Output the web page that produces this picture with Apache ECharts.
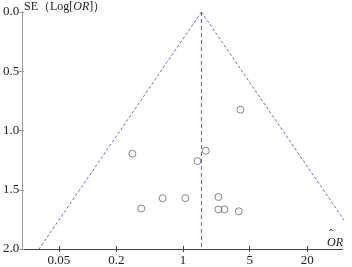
<!DOCTYPE html>
<html>
<head>
<meta charset="utf-8">
<script src="https://cdn.jsdelivr.net/npm/echarts@6/dist/echarts.min.js"></script>
<style>html,body{margin:0;padding:0;background:#fff}#c{width:352px;height:267px}</style>
</head>
<body>
<div id="c"></div>
<script>
// Study odds ratios and standard errors of log(OR)
const studyOR = [4.0, 0.294, 1.73, 1.416, 0.365, 0.611, 1.056, 2.35, 2.35, 2.72, 3.84];
const studySE = [0.824, 1.196, 1.171, 1.258, 1.658, 1.571, 1.571, 1.561, 1.666, 1.666, 1.682];
// pooled estimate (vertex of funnel)
const pooledOR = 1.56;
const funnelSE = [0, 2];
// tick labels
const xTickValues = [0.05, 0.2, 1, 5, 20];
const xTickLabels = ['0.05', '0.2', '1', '5', '20'];
const yTickValues = [0, 0.5, 1, 1.5, 2];

const LN10 = Math.log(10);
const pooledLog = Math.log10(pooledOR);
const points = studyOR.map((v, i) => [Math.log10(v), studySE[i]]);
const leftLine = funnelSE.map(s => [pooledLog - 1.96 * s / LN10, s]);
const rightLine = funnelSE.map(s => [pooledLog + 1.96 * s / LN10, s]);
const midLine = funnelSE.map(s => [pooledLog, s]);
const xTickLogs = xTickValues.map(v => Math.log10(v));

const serif = '"Liberation Serif", "DejaVu Serif", serif';
const chart = echarts.init(document.getElementById('c'), null, {renderer: 'canvas'});
const xMin = -1.686, xMax = 1.674;
const xLabelFmt = v => {
  let best = 0, bd = Infinity;
  xTickLogs.forEach((t, i) => { const d = Math.abs(t - v); if (d < bd) { bd = d; best = i; } });
  return xTickLabels[best];
};
chart.setOption({
  animation: false,
  backgroundColor: '#fff',
  grid: {left: 17.5, right: 9.3, top: 12, bottom: 17},
  xAxis: [{
    type: 'value', min: xMin, max: xMax, position: 'bottom',
    splitLine: {show: false},
    axisLine: {onZero: false, lineStyle: {color: '#444', width: 1}},
    axisTick: {show: true, inside: false, length: 3, customValues: xTickLogs, lineStyle: {color: '#444'}},
    axisLabel: {customValues: xTickLogs, formatter: xLabelFmt, fontFamily: serif, fontSize: 13, color: '#222', margin: 5}
  }, {
    type: 'value', min: xMin, max: xMax, position: 'bottom',
    splitLine: {show: false},
    axisLine: {show: false, onZero: false},
    axisTick: {show: true, inside: true, length: 3, customValues: xTickLogs, lineStyle: {color: '#444'}},
    axisLabel: {show: false}
  }],
  yAxis: [{
    type: 'value', inverse: true, min: 0, max: 2, interval: 0.5, position: 'left',
    splitLine: {show: false},
    axisLine: {show: true, onZero: false, lineStyle: {color: '#999', width: 1}},
    axisTick: {show: true, inside: false, length: 3, lineStyle: {color: '#999'}},
    axisLabel: {customValues: yTickValues, formatter: v => v.toFixed(1), fontFamily: serif, fontSize: 13, color: '#222', margin: 3}
  }, {
    type: 'value', inverse: true, min: 0, max: 2, interval: 0.5, position: 'left',
    splitLine: {show: false},
    axisLine: {show: false, onZero: false},
    axisTick: {show: true, inside: true, length: 2, lineStyle: {color: '#999'}},
    axisLabel: {show: false}
  }],
  series: [
    {type: 'line', data: leftLine, symbol: 'none', lineStyle: {color: '#7070c0', width: 1, type: [3, 2]}},
    {type: 'line', data: rightLine, symbol: 'none', lineStyle: {color: '#7070c0', width: 1, type: [3, 2]}},
    {type: 'line', data: midLine, symbol: 'none', lineStyle: {color: '#66668a', width: 1, type: [4, 3]}},
    {type: 'scatter', data: points, symbol: 'circle', symbolSize: 7, z: 5,
     itemStyle: {color: 'rgba(255,255,255,0)', borderColor: '#555', borderWidth: 0.9}}
  ],
  graphic: [
    {type: 'text', left: 24, top: 1, style: {
      text: 'SE（Log[{i|OR}]）', fontFamily: serif, fontSize: 12, fill: '#222',
      rich: {i: {fontStyle: 'italic', fontFamily: serif, fontSize: 12, fill: '#222'}}
    }},
    {type: 'text', left: 327, top: 237, style: {text: 'OR', fontFamily: serif, fontStyle: 'italic', fontSize: 12, fill: '#222'}},
    {type: 'text', left: 329, top: 229, style: {text: 'ˆ', fontFamily: serif, fontSize: 12, fill: '#222'}}
  ]
});
</script>
</body>
</html>
